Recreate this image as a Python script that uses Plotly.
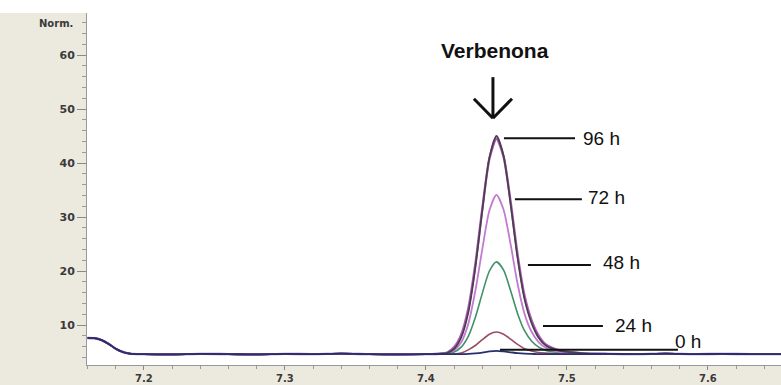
import plotly.graph_objects as go

# Retention time grid (min) shared by every chromatogram
base_x_left = [7.16, 7.165, 7.17, 7.175, 7.18, 7.185, 7.19, 7.20, 7.22, 7.24, 7.26, 7.28,
               7.30, 7.32, 7.34, 7.36, 7.38, 7.40]
peak_x = [7.41, 7.415, 7.42, 7.425, 7.43, 7.435, 7.44, 7.445, 7.45, 7.455, 7.46, 7.465,
          7.47, 7.475, 7.48, 7.485, 7.495, 7.51]
base_x_right = [7.53, 7.55, 7.57, 7.59, 7.61, 7.63, 7.652]

# Baseline signal (Norm.) before and after the peak
base_y_left = [7.6, 7.55, 7.2, 6.5, 5.6, 5.0, 4.7, 4.6, 4.55, 4.65, 4.6, 4.55,
               4.65, 4.6, 4.7, 4.6, 4.55, 4.6]
base_y_right = [4.65, 4.6, 4.7, 4.6, 4.65, 4.6, 4.6]

# Verbenone peak signal for each sampling time
y_96h = [4.7, 4.8, 5.6, 7.7, 12.3, 20.6, 31.3, 41.0, 45.0, 41.4, 32.5, 22.4,
         14.7, 10.3, 7.6, 6.2, 5.2, 4.8]
y_96h_rep = [4.7, 4.9, 5.9, 8.2, 13.0, 21.2, 31.6, 40.8, 44.5, 41.2, 32.9, 23.0,
             15.3, 10.8, 8.0, 6.4, 5.3, 4.8]
y_72h = [4.6, 4.8, 5.3, 6.8, 10.2, 16.3, 24.1, 31.2, 34.1, 31.4, 25.0, 17.6,
         12.0, 8.7, 6.8, 5.8, 5.0, 4.7]
y_48h = [4.6, 4.7, 5.0, 5.9, 7.9, 11.4, 15.9, 20.0, 21.7, 20.2, 16.4, 12.1,
         8.9, 7.0, 5.9, 5.3, 4.9, 4.6]
y_24h = [4.6, 4.6, 4.6, 4.8, 5.4, 6.2, 7.3, 8.3, 8.7, 8.3, 7.4, 6.4,
         5.6, 5.2, 4.9, 4.8, 4.7, 4.6]
y_0h = [4.6, 4.6, 4.6, 4.6, 4.65, 4.75, 4.9, 5.1, 5.2, 5.1, 4.95, 4.8,
        4.7, 4.65, 4.6, 4.6, 4.6, 4.6]

series_names = ["24 h", "48 h", "72 h", "96 h", "96 h", "0 h"]
series_vals = [y_24h, y_48h, y_72h, y_96h_rep, y_96h, y_0h]
series_colors = ["#9a4d5e", "#3f9168", "#c27ad2", "#b45cbf", "#4b3f4e", "#26306e"]
series_widths = [1.6, 1.6, 1.8, 2.4, 1.8, 1.8]

# Label callouts: text, line start/end (min) and level (Norm.)
label_text = ["96 h", "72 h", "48 h", "24 h", "0 h"]
label_x0 = [7.4553, 7.4631, 7.4723, 7.4830, 7.4525]
label_x1 = [7.5057, 7.5106, 7.5170, 7.5255, 7.5787]
label_y = [44.6, 33.3, 21.1, 9.8, 5.4]
label_tx = [7.5099, 7.5135, 7.5241, 7.5326, 7.5752]
label_ty = [44.6, 33.6, 21.6, 9.9, 6.9]

BEIGE = "#ece9df"
TICK_FONT = dict(family="DejaVu Sans", size=11, color="#3a3a3a", weight="bold")
X_TICK_FONT = dict(family="DejaVu Sans", size=10, color="#3a3a3a", weight="bold")
fig = go.Figure()

x_all = base_x_left + peak_x + base_x_right
for name, vals, col, w in zip(series_names, series_vals, series_colors, series_widths):
    fig.add_trace(go.Scatter(
        x=x_all, y=base_y_left + vals + base_y_right, mode="lines", name=name,
        line=dict(color=col, width=w, shape="spline", smoothing=0.7),
        showlegend=False, hoverinfo="skip"))

shapes = [
    # beige frame to the left of the y axis and below the x axis
    dict(type="rect", xref="paper", yref="paper", x0=-87 / 694, x1=0,
         y0=-20 / 352, y1=1.0, fillcolor=BEIGE, line_width=0, layer="below"),
    dict(type="rect", xref="paper", yref="paper", x0=0, x1=1.01,
         y0=-20 / 352, y1=0, fillcolor=BEIGE, line_width=0, layer="below"),
]
# callout lines
for x0, x1, yv in zip(label_x0, label_x1, label_y):
    shapes.append(dict(type="line", xref="x", yref="y", x0=x0, x1=x1, y0=yv, y1=yv,
                       line=dict(color="#111111", width=2)))
# downward arrow marking the verbenone peak
arrow = dict(color="#111111", width=3)
shapes.append(dict(type="line", xref="x", yref="y", x0=7.4475, x1=7.4475, y0=55.9, y1=48.4, line=arrow))
shapes.append(dict(type="line", xref="x", yref="y", x0=7.434, x1=7.4475, y0=51.9, y1=48.3, line=arrow))
shapes.append(dict(type="line", xref="x", yref="y", x0=7.461, x1=7.4475, y0=51.9, y1=48.3, line=arrow))

annotations = [
    dict(x=7.449, y=60.9, xref="x", yref="y", text="<b>Verbenona</b>", showarrow=False,
         font=dict(family="Liberation Sans, Arial", size=21, color="#111111")),
    dict(x=0, y=65.9, xref="paper", yref="y", text="<b>Norm.</b>", showarrow=False,
         xanchor="right", xshift=-12, font=dict(family="DejaVu Sans", size=10, color="#3a3a3a")),
]
for t, tx, ty in zip(label_text, label_tx, label_ty):
    annotations.append(dict(x=tx, y=ty, xref="x", yref="y", text=t, showarrow=False,
                            xanchor="left",
                            font=dict(family="Liberation Sans, Arial", size=19, color="#111111")))

fig.update_layout(
    width=781, height=385,
    margin=dict(l=87, r=0, t=13, b=20, pad=0),
    paper_bgcolor="white", plot_bgcolor="white",
    shapes=shapes, annotations=annotations,
    xaxis=dict(range=[7.1596, 7.6518], tickvals=[7.2, 7.3, 7.4, 7.5, 7.6],
               ticktext=["7.2", "7.3", "7.4", "7.5", "7.6"],
               ticks="outside", ticklen=4, tickcolor="#888888", showgrid=False,
               zeroline=False, showline=True, linecolor="#999999", linewidth=1,
               automargin=False,
               minor=dict(dtick=0.02, tick0=7.16, ticks="outside", ticklen=3, tickcolor="#999999"),
               tickfont=X_TICK_FONT),
    yaxis=dict(range=[2.593, 67.78], tickvals=[10, 20, 30, 40, 50, 60],
               ticks="outside", ticklen=9, tickcolor="#888888", showgrid=False,
               zeroline=False, showline=True, linecolor="#999999", linewidth=1,
               automargin=False,
               minor=dict(dtick=2, tick0=0, ticks="outside", ticklen=4, tickcolor="#999999"),
               tickfont=TICK_FONT),
)

fig.write_html("out.html")
